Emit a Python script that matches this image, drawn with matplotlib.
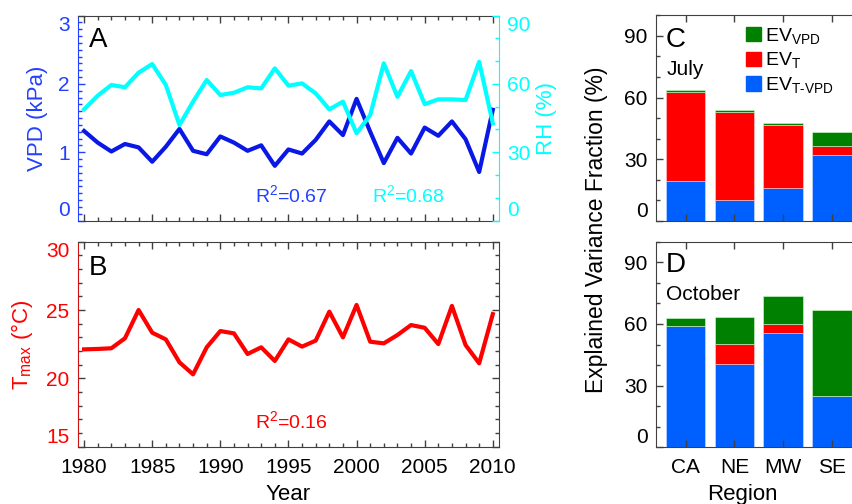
import numpy as np
import matplotlib
matplotlib.use("Agg")
import matplotlib.pyplot as plt
from matplotlib.ticker import MultipleLocator
from matplotlib.patches import Patch

plt.rcParams['font.family'] = ['Liberation Sans', 'DejaVu Sans']
plt.rcParams['mathtext.fontset'] = 'custom'
plt.rcParams['mathtext.rm'] = 'Liberation Sans'
plt.rcParams['mathtext.it'] = 'Liberation Sans'
plt.rcParams['mathtext.default'] = 'regular'

years = np.arange(1980, 2011)
vpd = [1.31, 1.14, 1.01, 1.12, 1.07, 0.86, 1.08, 1.34, 1.02, 0.97,
       1.23, 1.14, 1.02, 1.10, 0.80, 1.04, 0.98, 1.18, 1.45, 1.25,
       1.78, 1.30, 0.84, 1.21, 0.98, 1.36, 1.24, 1.45, 1.19, 0.71,
       1.62]
rh = [48.8, 54.8, 59.5, 58.5, 64.9, 68.7, 59.5, 41.9, 52.2, 61.7,
      55.1, 56.1, 58.5, 58.0, 66.8, 59.2, 60.2, 55.8, 48.8, 52.2,
      38.3, 46.3, 69.0, 54.3, 65.6, 51.1, 53.2, 53.2, 52.9, 69.7,
      42.7]
tmax = [22.12, 22.15, 22.2, 22.93, 25.0, 23.34, 22.85, 21.17, 20.29, 22.27,
        23.46, 23.29, 21.78, 22.27, 21.27, 22.85, 22.32, 22.76, 24.88, 23.0,
        25.37, 22.68, 22.56, 23.17, 23.9, 23.7, 22.51, 25.3, 22.44, 21.1,
        24.7]

regions = ['CA', 'NE', 'MW', 'SE']
# July
jul_tvpd = [19.5, 10.4, 16.2, 32.1]
jul_t = [43.4, 42.8, 30.5, 4.5]
jul_vpd = [1.0, 0.8, 0.8, 6.7]
# October
oct_tvpd = [59.0, 40.5, 55.4, 25.1]
oct_t = [0.0, 9.7, 4.6, 0.0]
oct_vpd = [3.9, 13.3, 13.7, 41.5]

c_vpd = '#0a18e6'
c_vpd_txt = '#2240ff'
c_rh = '#00ffff'
c_red = '#ff0000'
c_green = '#008000'
c_blue = '#0060ff'
c_frame = '#404040'

FS_TICK = 15
FS_LAB = 16


def style_ticks(ax):
    ax.tick_params(which='both', direction='in', labelsize=FS_TICK)
    ax.tick_params(which='major', length=5, width=1)
    ax.tick_params(which='minor', length=3, width=1)
    ax.tick_params(axis='y', which='major', pad=6)
    ax.tick_params(axis='x', which='major', pad=8)


def clamp_ylabels(ax):
    # end labels are kept inside the axis range, as in the original
    lo, hi = ax.get_ylim()
    locs = ax.get_yticks()
    ticks = ax.yaxis.get_major_ticks(len(locs))
    for v, tick in zip(locs, ticks):
        for lab in (tick.label1, tick.label2):
            if abs(v - lo) < 0.06:
                lab.set_va('bottom')
            elif abs(v - hi) < 0.06:
                lab.set_va('top')
            else:
                lab.set_va('center_baseline')


fig = plt.figure(figsize=(8.52, 5.04), dpi=100)

# ---- panel A
axA = fig.add_axes([0.0915, 0.5625, 0.4941, 0.4067])
axA.plot(years, vpd, color=c_vpd, lw=3, zorder=3)
axA.set_xlim(1979.55, 2010.45)
axA.set_ylim(0, 3)
axA.xaxis.set_major_locator(MultipleLocator(5))
axA.xaxis.set_minor_locator(MultipleLocator(1))
axA.yaxis.set_major_locator(MultipleLocator(1))
axA.yaxis.set_minor_locator(MultipleLocator(0.1))
style_ticks(axA)
axA.tick_params(axis='x', which='both', top=True, labelbottom=False, colors=c_frame)
axA.tick_params(axis='y', which='both', colors=c_vpd_txt)
axA.set_ylabel('VPD (kPa)', fontsize=FS_LAB, color=c_vpd_txt, labelpad=7)
axA.spines['left'].set_color(c_vpd_txt)
axA.spines['top'].set_color(c_frame)
axA.spines['bottom'].set_color(c_frame)
axA.spines['right'].set_visible(False)

axR = axA.twinx()
axR.plot(years, rh, color=c_rh, lw=3, zorder=2)
axR.set_ylim(0, 90)
axR.yaxis.set_major_locator(MultipleLocator(30))
axR.yaxis.set_minor_locator(MultipleLocator(10))
style_ticks(axR)
axR.tick_params(axis='y', which='both', colors=c_rh)
axR.set_ylabel('RH (%)', fontsize=FS_LAB, color=c_rh, labelpad=4)
axR.spines['right'].set_color(c_rh)
axR.spines['left'].set_visible(False)
axR.spines['top'].set_visible(False)
axR.spines['bottom'].set_visible(False)

axA.text(0.026, 0.945, 'A', transform=axA.transAxes, fontsize=20, va='top', ha='left')
axA.text(1992.55, 0.37, 'R$^2$=0.67', color=c_vpd_txt, fontsize=14, va='center')
axA.text(2001.1, 0.37, 'R$^2$=0.68', color=c_rh, fontsize=14, va='center')

# ---- panel B
axB = fig.add_axes([0.0915, 0.1125, 0.4941, 0.4079])
axB.plot(years, tmax, color=c_red, lw=3)
axB.set_xlim(1979.55, 2010.45)
axB.set_ylim(14.95, 30)
axB.xaxis.set_major_locator(MultipleLocator(5))
axB.xaxis.set_minor_locator(MultipleLocator(1))
axB.yaxis.set_major_locator(MultipleLocator(5))
axB.yaxis.set_minor_locator(MultipleLocator(1))
style_ticks(axB)
axB.tick_params(axis='x', which='both', top=True, colors=c_frame, labelcolor='black')
axB.tick_params(axis='y', which='both', right=True, colors=c_frame)
axB.tick_params(axis='y', which='both', labelcolor=c_red)
axB.set_xlabel('Year', fontsize=FS_LAB, labelpad=5)
axB.set_ylabel('T$_{max}$ (°C)', fontsize=FS_LAB, color=c_red, labelpad=8)
axB.spines['left'].set_color('#cc1111')
for s in ['top', 'bottom', 'right']:
    axB.spines[s].set_color(c_frame)
axB.text(0.026, 0.935, 'B', transform=axB.transAxes, fontsize=20, va='top', ha='left')
axB.text(1992.55, 16.87, 'R$^2$=0.16', color=c_red, fontsize=14, va='center')


# ---- panels C and D
def stacked(ax, tvpd, t, v):
    x = np.arange(1, len(regions) + 1)
    ax.bar(x, tvpd, width=0.81, color=c_blue, edgecolor='#cfe0ff', lw=0.4)
    ax.bar(x, t, width=0.81, bottom=tvpd, color=c_red, edgecolor='#ffd0d0', lw=0.4)
    ax.bar(x, v, width=0.81, bottom=np.add(tvpd, t), color=c_green, edgecolor='#d0ffd0', lw=0.4)
    ax.set_xlim(0.395, 4.605)
    ax.set_ylim(0, 100)
    ax.set_xticks(x)
    ax.yaxis.set_major_locator(MultipleLocator(30))
    ax.yaxis.set_minor_locator(MultipleLocator(10))
    style_ticks(ax)
    ax.tick_params(axis='x', which='both', top=True, colors=c_frame, labelcolor='black')
    ax.tick_params(axis='y', which='both', right=True, colors=c_frame, labelcolor='black')
    for s in ax.spines.values():
        s.set_color(c_frame)


axC = fig.add_axes([0.77, 0.5615, 0.2412, 0.4081])
stacked(axC, jul_tvpd, jul_t, jul_vpd)
axC.set_xticklabels([])
axC.text(0.049, 0.945, 'C', transform=axC.transAxes, fontsize=20, va='top', ha='left')
axC.text(0.049, 0.785, 'July', transform=axC.transAxes, fontsize=15, va='top', ha='left')
handles = [Patch(color=c_green, label='EV$_{VPD}$'),
           Patch(color=c_red, label='EV$_T$'),
           Patch(color=c_blue, label='EV$_{T\u2011VPD}$')]
axC.legend(handles=handles, loc='upper left', bbox_to_anchor=(0.44, 0.95),
           frameon=False, fontsize=14, handlelength=0.75, handleheight=0.75,
           handletextpad=0.2, labelspacing=0.25, borderpad=0, borderaxespad=0)

axD = fig.add_axes([0.77, 0.1125, 0.2412, 0.4079])
stacked(axD, oct_tvpd, oct_t, oct_vpd)
axD.set_xticklabels(regions)
axD.set_xlabel('Region', fontsize=FS_LAB, labelpad=5)
axD.text(0.049, 0.95, 'D', transform=axD.transAxes, fontsize=20, va='top', ha='left')
axD.text(0.049, 0.79, 'October', transform=axD.transAxes, fontsize=15, va='top', ha='left')

fig.text(0.70, 0.545, 'Explained Variance Fraction (%)', rotation=90,
         fontsize=16.5, ha='center', va='center')
axD.xaxis.label.set_position((0.42, 0))

fig.canvas.draw()
for ax in (axA, axR, axB, axC, axD):
    clamp_ylabels(ax)

fig.savefig('out.png', dpi=100)
